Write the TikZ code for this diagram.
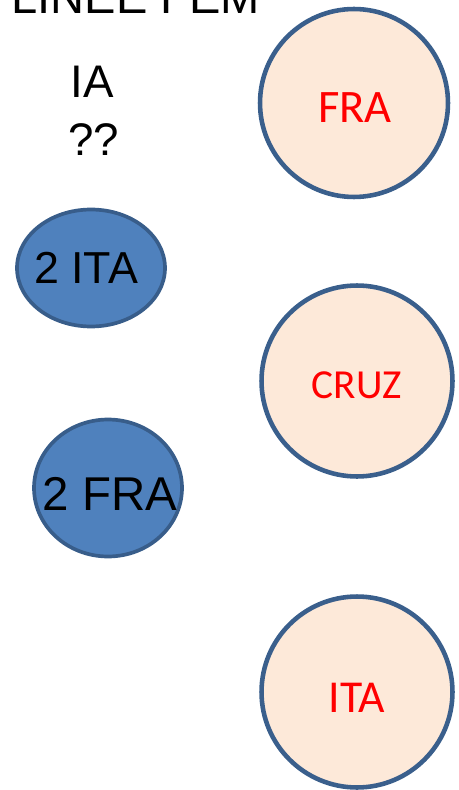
\documentclass[tikz,border=0pt]{standalone}
\usepackage{fontspec}
\setmainfont{Liberation Sans}
\newfontfamily\calibri{Carlito}
\usetikzlibrary{shapes.geometric}

\definecolor{peach}{HTML}{FDE9D9}
\definecolor{rimblue}{HTML}{3A5F8C}
\definecolor{ovalblue}{HTML}{4F81BD}
\definecolor{ovalrim}{HTML}{385D8A}

\begin{document}
\begin{tikzpicture}[x=0.02cm, y=-0.02cm,
	team/.style={circle, draw=rimblue, fill=peach, line width=2.6pt,
		text=red, inner sep=0pt},
	oval/.style={ellipse, draw=ovalrim, fill=ovalblue, line width=2.1pt,
		inner sep=0pt},
	word/.style={inner sep=0pt, anchor=base, font=\fontsize{26}{30}\selectfont}]

% frame %{{{2

	\useasboundingbox (0,0) rectangle (459,790);

% title and question %{{{2

	\node[word, anchor=base west, font=\fontsize{26.8}{30}\selectfont]
		(title) at (11,14) {LINEE FEM};
	\node[word] (ia) at (92,98) {IA};
	\node[word] (qq) at (94,156) {??};

% teams %{{{2

	\node[team, minimum size=3.76cm] (fra) at (354,103) {};
	\node[team, minimum size=3.82cm] (cruz) at (357,381) {};
	\node[team, minimum size=3.82cm] (ita) at (357,692) {};

	\node[inner sep=0pt, anchor=base, text=red,
		font=\calibri\fontsize{26.5}{30}\selectfont] (fral) at (355,123) {FRA};
	\node[inner sep=0pt, anchor=base, text=red,
		font=\calibri\fontsize{23.5}{27}\selectfont] (cruzl) at (357,398) {CRUZ};
	\node[inner sep=0pt, anchor=base, text=red,
		font=\calibri\fontsize{26}{29}\selectfont] (ital) at (357,712) {ITA};

% picks %{{{2

	\node[oval, minimum width=2.96cm, minimum height=2.34cm] (ita2) at (91,268) {};
	\node[oval, minimum width=2.96cm, minimum height=2.74cm] (fra2) at (108,488) {};

	\node[word, font=\fontsize{25.5}{30}\selectfont] (ita2l) at (86,283) {2 ITA};
	\node[word, font=\fontsize{27}{31}\selectfont] (fra2l) at (110,510) {2 FRA};

% closing %{{{2

\end{tikzpicture}
\end{document}
